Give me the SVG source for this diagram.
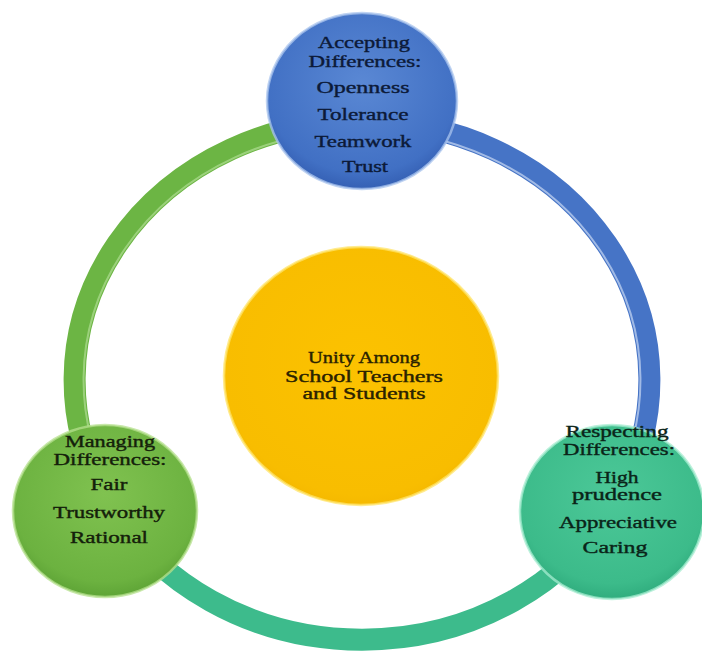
<svg xmlns="http://www.w3.org/2000/svg" width="702" height="653" viewBox="0 0 702 653">
<defs>
<radialGradient id="gBlue" cx="0.5" cy="0.4" r="0.6">
<stop offset="0" stop-color="#5a88d4"/><stop offset="0.85" stop-color="#4170c4"/><stop offset="1" stop-color="#3560b4"/>
</radialGradient>
<radialGradient id="gYel" cx="0.5" cy="0.45" r="0.6">
<stop offset="0" stop-color="#fcc200"/><stop offset="0.85" stop-color="#f8bd00"/><stop offset="1" stop-color="#f2b400"/>
</radialGradient>
<radialGradient id="gGrn" cx="0.5" cy="0.4" r="0.6">
<stop offset="0" stop-color="#80c250"/><stop offset="0.85" stop-color="#6cb240"/><stop offset="1" stop-color="#5ea436"/>
</radialGradient>
<radialGradient id="gTeal" cx="0.5" cy="0.4" r="0.6">
<stop offset="0" stop-color="#4cc898"/><stop offset="0.85" stop-color="#3cbb8a"/><stop offset="1" stop-color="#30ad7e"/>
</radialGradient>
<style>
.arc{fill:none;stroke-width:22;stroke-linecap:butt}
.hl{fill:none;stroke-width:2;opacity:0.8}
.rim{stroke-width:2.5;stroke-opacity:0.75}
.t{font-family:"Liberation Serif","Times New Roman",serif;font-size:17.5px;text-anchor:middle;stroke-width:0.4}
</style>
</defs>
<rect width="702" height="653" fill="#ffffff"/>
<g id="connectors">
<path class="arc" stroke="#6cb544" d="M 362 121 A 287 259 0 0 0 105 496"/>
<path class="arc" stroke="#4674c6" d="M 362 121 A 287 259 0 0 1 619 496"/>
<path class="arc" stroke="#3dbb8c" d="M 105 496 A 287 259 0 0 0 619 496"/>
<path class="hl" stroke="#a8d88a" d="M 362 130 A 278 250 0 0 0 113 492"/>
<path class="hl" stroke="#b8ccee" d="M 362 130 A 278 250 0 0 1 611 492"/>
</g>
<g id="center">
<ellipse cx="361" cy="376" rx="137" ry="129" fill="url(#gYel)" stroke="#ffe46a" class="rim"/>
<text class="t" fill="#2a2200" stroke="#2a2200"><tspan x="364" y="363" textLength="112" lengthAdjust="spacingAndGlyphs">Unity Among</tspan><tspan x="364" y="382" textLength="158" lengthAdjust="spacingAndGlyphs">School Teachers</tspan><tspan x="364" y="399" textLength="123" lengthAdjust="spacingAndGlyphs">and Students</tspan></text>
</g>
<g id="accepting">
<ellipse cx="362" cy="101" rx="95" ry="88" fill="url(#gBlue)" stroke="#a9c4ee" class="rim"/>
<text class="t" fill="#0c1a38" stroke="#0c1a38"><tspan x="364" y="48" textLength="92" lengthAdjust="spacingAndGlyphs">Accepting</tspan><tspan x="365" y="67" textLength="113" lengthAdjust="spacingAndGlyphs">Differences:</tspan><tspan x="363" y="93" textLength="93" lengthAdjust="spacingAndGlyphs">Openness</tspan><tspan x="363" y="120" textLength="91" lengthAdjust="spacingAndGlyphs">Tolerance</tspan><tspan x="363" y="147" textLength="97" lengthAdjust="spacingAndGlyphs">Teamwork</tspan><tspan x="365" y="172" textLength="46" lengthAdjust="spacingAndGlyphs">Trust</tspan></text>
</g>
<g id="managing">
<ellipse cx="105" cy="511" rx="92" ry="86" fill="url(#gGrn)" stroke="#b6e08e" class="rim"/>
<text class="t" fill="#14200a" stroke="#14200a"><tspan x="110" y="447" textLength="90" lengthAdjust="spacingAndGlyphs">Managing</tspan><tspan x="110" y="465" textLength="113" lengthAdjust="spacingAndGlyphs">Differences:</tspan><tspan x="109" y="490" textLength="37" lengthAdjust="spacingAndGlyphs">Fair</tspan><tspan x="109" y="518" textLength="112" lengthAdjust="spacingAndGlyphs">Trustworthy</tspan><tspan x="109" y="543" textLength="78" lengthAdjust="spacingAndGlyphs">Rational</tspan></text>
</g>
<g id="respecting">
<ellipse cx="612" cy="512" rx="92" ry="87" fill="url(#gTeal)" stroke="#a6ecd0" class="rim"/>
<text class="t" fill="#0a2418" stroke="#0a2418"><tspan x="617" y="437" textLength="103" lengthAdjust="spacingAndGlyphs">Respecting</tspan><tspan x="619" y="455" textLength="112" lengthAdjust="spacingAndGlyphs">Differences:</tspan><tspan x="617" y="483" textLength="43" lengthAdjust="spacingAndGlyphs">High</tspan><tspan x="617" y="500" textLength="90" lengthAdjust="spacingAndGlyphs">prudence</tspan><tspan x="618" y="528" textLength="118" lengthAdjust="spacingAndGlyphs">Appreciative</tspan><tspan x="615" y="553" textLength="65" lengthAdjust="spacingAndGlyphs">Caring</tspan></text>
</g>
</svg>
